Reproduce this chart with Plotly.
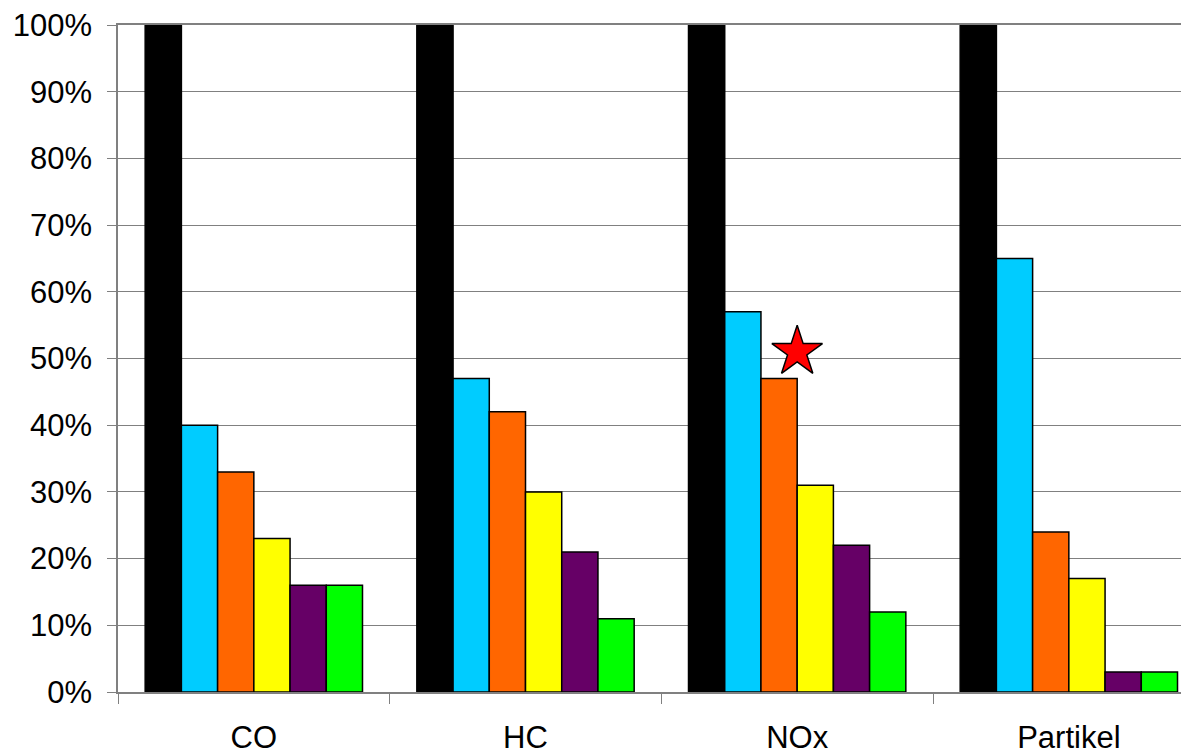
import plotly.graph_objects as go

categories = ["CO", "HC", "NOx", "Partikel"]
series_names = ["S1", "S2", "S3", "S4", "S5", "S6"]
series_values = [
    [100, 100, 100, 100],
    [40, 47, 57, 65],
    [33, 42, 47, 24],
    [23, 30, 31, 17],
    [16, 21, 22, 3],
    [16, 11, 12, 3],
]
series_colors = ["#000000", "#00CCFF", "#FF6600", "#FFFF00", "#660066", "#00FF00"]
star_category = 2
star_value = 51
y_ticks = list(range(0, 101, 10))
y_ticktext = [f"{v}%" for v in y_ticks]

FONT = "Liberation Sans, Arial, sans-serif"
GRID = "#808080"

xpos = list(range(len(categories)))
fig = go.Figure()
for name, vals, col in zip(series_names, series_values, series_colors):
    fig.add_trace(go.Bar(
        x=xpos, y=vals, name=name,
        marker=dict(color=col, line=dict(color="#000000", width=1.5)),
        hoverinfo="skip",
    ))

fig.add_trace(go.Scatter(
    x=[star_category], y=[star_value], mode="markers",
    marker=dict(symbol="star", size=38, color="#FF0000",
                line=dict(color="#000000", width=1.5)),
    hoverinfo="skip",
))

# page body adds an 8px offset; compensate
W, H = 1181, 747
ml, mr, mt, mb = 110, 0, 14, 61
cat_px = 271.67
xmax = -0.5 + (W - ml - mr) / cat_px

fig.update_layout(
    width=W, height=H,
    margin=dict(l=ml, r=mr, t=mt, b=mb, pad=0),
    paper_bgcolor="white", plot_bgcolor="white",
    showlegend=False,
    barmode="group", bargap=0.2, bargroupgap=0,
    font=dict(family=FONT, size=31, color="#000000"),
    xaxis=dict(
        range=[-0.5, xmax], tickmode="array", tickvals=xpos, ticktext=categories,
        ticks="", showgrid=False, zeroline=False,
        showline=True, mirror=True, linecolor=GRID, linewidth=1.5,
        ticklabelstandoff=17, ticklabeloverflow="allow",
        minor=dict(tickmode="array", tickvals=[-0.5, 0.5, 1.5, 2.5, 3.5],
                   ticks="outside", ticklen=10, tickcolor=GRID, tickwidth=1,
                   showgrid=False),
        tickfont=dict(family=FONT, size=31, color="#000000"),
    ),
    yaxis=dict(
        range=[0, 100], tickmode="array", tickvals=y_ticks, ticktext=y_ticktext,
        ticks="outside", ticklen=9, tickcolor=GRID, tickwidth=1,
        showgrid=True, gridcolor=GRID, gridwidth=1,
        zeroline=False, showline=True, linecolor=GRID, linewidth=1.5,
        ticklabelstandoff=9, ticklabeloverflow="allow",
        tickfont=dict(family=FONT, size=31, color="#000000"),
    ),
)

fig.write_html("out.html")
